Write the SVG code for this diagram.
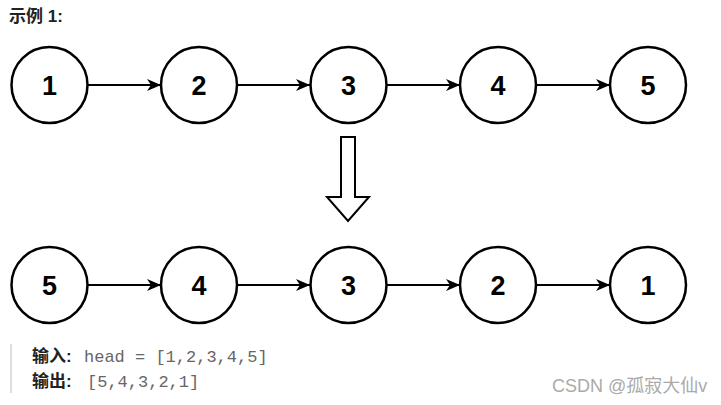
<svg xmlns="http://www.w3.org/2000/svg" width="721" height="405" viewBox="0 0 721 405">
<defs>
<style>
.node circle{fill:#fff;stroke:#000;stroke-width:2.5}
.node text{font-family:"Liberation Sans",Arial,sans-serif;font-weight:bold;font-size:27px;text-anchor:middle;fill:#000}
.edge{stroke:#000;stroke-width:2;fill:none;marker-end:url(#ah)}
.cn{font-family:"Liberation Sans","Noto Sans CJK SC",sans-serif;font-weight:bold;font-size:17px;fill:#222}
.code{font-family:"Liberation Mono","DejaVu Sans Mono",monospace;font-size:17px;fill:#666}
</style>
<marker id="ah" viewBox="0 0 14 12" refX="14" refY="6" markerWidth="14" markerHeight="12" markerUnits="userSpaceOnUse" orient="auto">
<path d="M0,0 L14,6 L0,12 L4,6 Z" fill="#000"/>
</marker>
</defs>
<rect width="721" height="405" fill="#fff"/>
<text x="9" y="22" class="cn">示例 1:</text>
<g id="connectors">
<line class="edge" x1="88" y1="85" x2="161" y2="85"/>
<line class="edge" x1="238" y1="85" x2="310" y2="85"/>
<line class="edge" x1="387" y1="85" x2="460" y2="85"/>
<line class="edge" x1="537" y1="85" x2="610" y2="85"/>
<line class="edge" x1="88" y1="285" x2="161" y2="285"/>
<line class="edge" x1="238" y1="285" x2="310" y2="285"/>
<line class="edge" x1="387" y1="285" x2="460" y2="285"/>
<line class="edge" x1="537" y1="285" x2="610" y2="285"/>
</g>
<g id="n1" class="node"><circle cx="49.5" cy="85" r="38"/><text x="49.5" y="95">1</text></g>
<g id="n2" class="node"><circle cx="199" cy="85" r="38"/><text x="199" y="95">2</text></g>
<g id="n3" class="node"><circle cx="348.5" cy="85" r="38"/><text x="348.5" y="95">3</text></g>
<g id="n4" class="node"><circle cx="498" cy="85" r="38"/><text x="498" y="95">4</text></g>
<g id="n5" class="node"><circle cx="648" cy="85" r="38"/><text x="648" y="95">5</text></g>
<g id="big-arrow"><path d="M341,137 H355 V197 H369 L348,221 L327,197 H341 Z" fill="#fff" stroke="#000" stroke-width="2"/></g>
<g id="m5" class="node"><circle cx="49.5" cy="285" r="38"/><text x="49.5" y="295">5</text></g>
<g id="m4" class="node"><circle cx="199" cy="285" r="38"/><text x="199" y="295">4</text></g>
<g id="m3" class="node"><circle cx="348.5" cy="285" r="38"/><text x="348.5" y="295">3</text></g>
<g id="m2" class="node"><circle cx="498" cy="285" r="38"/><text x="498" y="295">2</text></g>
<g id="m1" class="node"><circle cx="648" cy="285" r="38"/><text x="648" y="295">1</text></g>
<rect x="10" y="344" width="2" height="49" fill="#ddd"/>
<text x="32" y="362" class="cn">输入:</text>
<text x="84" y="362" class="code">head = [1,2,3,4,5]</text>
<text x="32" y="387" class="cn">输出:</text>
<text x="87" y="387" class="code">[5,4,3,2,1]</text>
<text x="552" y="392" font-family="'Liberation Sans','Noto Sans CJK SC',sans-serif" font-size="18" fill="#aaa">CSDN @孤寂大仙v</text>
</svg>
